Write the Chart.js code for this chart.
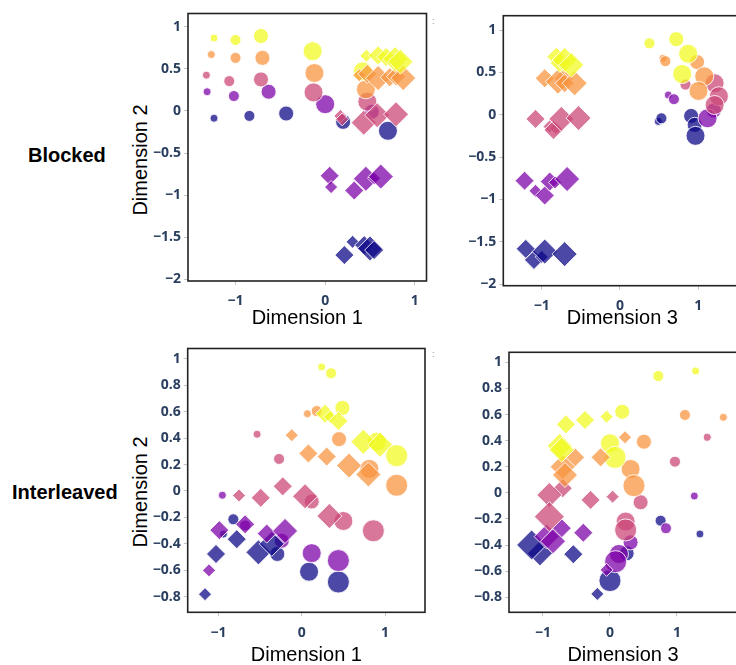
<!DOCTYPE html>
<html><head><meta charset="utf-8">
<script src="https://cdn.jsdelivr.net/npm/chart.js@4.4.1/dist/chart.umd.min.js"></script>
<style>
html,body{margin:0;padding:0;background:#fff;width:736px;height:665px;overflow:hidden;position:relative}
canvas{position:absolute}
.lbl{position:absolute;font-family:"Liberation Sans",Arial,sans-serif;white-space:nowrap;color:#000;line-height:1}
.row{font-weight:bold;font-size:20px}
.ytitle{font-size:20px;transform:translate(-50%,-50%) rotate(-90deg)}
.dots{font-size:9px;color:#8a93a6}
</style></head><body>
<div class="lbl row" style="left:28px;top:145px">Blocked</div>
<div class="lbl row" style="left:12px;top:482px">Interleaved</div>
<div class="lbl ytitle" style="left:140px;top:160px">Dimension 2</div>
<div class="lbl ytitle" style="left:140px;top:492px">Dimension 2</div>
<div class="lbl dots" style="left:432px;top:17px">:</div>
<div class="lbl dots" style="left:432px;top:350px">:</div>
<canvas id="tl" width="300" height="335" style="left:140px;top:0px"></canvas>
<canvas id="tr" width="300" height="335" style="left:455px;top:0px"></canvas>
<canvas id="bl" width="300" height="330" style="left:140px;top:335px"></canvas>
<canvas id="br" width="300" height="330" style="left:455px;top:335px"></canvas>
<script>
// ---------- tick labels ----------
const xTicks = [-1, 0, 1];
const yTicksBlocked = [-2, -1.5, -1, -0.5, 0, 0.5, 1];
const yTicksInterleaved = [-0.8, -0.6, -0.4, -0.2, 0, 0.2, 0.4, 0.6, 0.8, 1];

// ---------- Blocked: Dimension 1 vs Dimension 2 ----------
// group 0..4 = colour level, shape c = circle, d = diamond, size = size level
const tlX = [-1.24,-0.845,-0.435,0.2,0.7, -1.317,-1.018,-0.631,0.0,0.52, -1.325,-1.07,-0.716,-0.13,0.47, -1.27,-1.0,-0.70,-0.12,0.454, -1.24,-1.0,-0.716,-0.14,0.42,
  0.306,0.214,0.435,0.50,0.546, 0.05,0.066,0.324,0.454,0.546,0.62, 0.17,0.19,0.43,0.58,0.79, 0.38,0.47,0.59,0.72,0.79,0.87, 0.46,0.59,0.68,0.78,0.84];
const tlY = [-0.087,-0.059,-0.031,-0.13,-0.236, 0.228,0.177,0.228,0.08,-0.01, 0.425,0.354,0.374,0.22,0.11, 0.669,0.63,0.63,0.45,0.256, 0.866,0.843,0.89,0.709,0.47,
  -1.555,-1.712,-1.594,-1.633,-1.653, -0.77,-0.905,-0.945,-0.806,-0.80,-0.78, -0.06,-0.10,-0.14,-0.05,-0.04, 0.425,0.44,0.39,0.40,0.41,0.39, 0.655,0.66,0.64,0.615,0.585];
const tlGroup = [0,0,0,0,0, 1,1,1,1,1, 2,2,2,2,2, 3,3,3,3,3, 4,4,4,4,4,
  0,0,0,0,0, 1,1,1,1,1,1, 2,2,2,2,2, 3,3,3,3,3,3, 4,4,4,4,4];
const tlShape = ['c','c','c','c','c','c','c','c','c','c','c','c','c','c','c','c','c','c','c','c','c','c','c','c','c',
  'd','d','d','d','d','d','d','d','d','d','d','d','d','d','d','d','d','d','d','d','d','d','d','d','d','d','d'];
const tlSize = [1,2,3,3,4, 1,2,3,4,3, 1,2,3,4,4, 1,2,3,4,4, 1,2,3,4,4,
  1,2,2,3,2, 2,1,2,3,1,3, 1,1,3,3,3, 1,2,3,2,2,3, 1,2,2,3,3];

// ---------- Blocked: Dimension 3 vs Dimension 2 ----------
const trX = [0.49,0.53,0.91,0.955,0.966, 0.618,0.69,1.2,1.12, 0.838,1.21,1.265,1.21, 0.55,0.58,0.986,1.078,1.004, 0.377,0.72,0.872,0.796,
  -1.205,-1.10,-1.0,-0.962,-0.708, -1.22,-1.08,-0.962,-0.898,-0.83,-0.676, -1.08,-0.90,-0.82,-0.85,-0.75,-0.53, -0.962,-0.72,-0.793,-0.708,-0.58, -0.813,-0.77,-0.708,-0.623];
const trY = [-0.08,-0.043,-0.015,-0.12,-0.25, 0.232,0.183,0.05,-0.043, 0.355,0.371,0.218,0.114, 0.666,0.632,0.622,0.453,0.28, 0.843,0.892,0.72,0.48,
  -1.585,-1.715,-1.68,-1.617,-1.647, -0.78,-0.90,-0.955,-0.79,-0.80,-0.76, -0.05,-0.14,-0.16,-0.18,-0.05,-0.04, 0.43,0.43,0.39,0.371,0.371, 0.685,0.61,0.646,0.587];
const trGroup = [0,0,0,0,0, 1,1,1,1, 2,2,2,2, 3,3,3,3,3, 4,4,4,4,
  0,0,0,0,0, 1,1,1,1,1,1, 2,2,2,2,2,2, 3,3,3,3,3, 4,4,4,4];
const trShape = ['c','c','c','c','c','c','c','c','c','c','c','c','c','c','c','c','c','c','c','c','c','c',
  'd','d','d','d','d','d','d','d','d','d','d','d','d','d','d','d','d','d','d','d','d','d','d','d','d','d'];
const trSize = [1,2,3,3,4, 1,2,3,4, 2,4,4,4, 1,2,3,4,4, 2,3,4,4,
  2,2,1,3,3, 2,1,2,2,1,3, 2,1,1,2,3,3, 2,2,3,2,3, 2,2,3,3];

// ---------- Interleaved: Dimension 1 vs Dimension 2 ----------
const blX = [-0.94,-0.821,-0.293,0.088,0.44, -0.953,-0.68,-0.24,0.12,0.44, -0.536,-0.272,0.12,0.5,0.86, 0.068,0.18,0.448,0.812,1.14, 0.24,0.352,0.488,0.9,1.14,
  -1.161,-1.029,-0.78,-0.52,-0.36, -1.113,-0.989,-0.68,-0.42,-0.2, -0.753,-0.492,-0.228,0.04,0.332, -0.12,0.08,0.3,0.568,0.8, 0.28,0.34,0.44,0.74,0.94];
const blY = [-0.326,-0.214,-0.476,-0.61,-0.688, -0.032,-0.26,-0.376,-0.47,-0.526, 0.429,0.242,-0.08,-0.227,-0.301, 0.584,0.604,0.392,0.167,0.043, 0.938,0.89,0.628,0.372,0.267,
  -0.78,-0.476,-0.364,-0.464,-0.40, -0.6,-0.296,-0.252,-0.322,-0.302, -0.034,-0.052,0.035,-0.04,-0.189, 0.422,0.284,0.26,0.192,0.125, 0.584,0.56,0.529,0.372,0.35];
const blGroup = [0,0,0,0,0, 1,1,1,1,1, 2,2,2,2,2, 3,3,3,3,3, 4,4,4,4,4,
  0,0,0,0,0, 1,1,1,1,1, 2,2,2,2,2, 3,3,3,3,3, 4,4,4,4,4];
const blShape = ['c','c','c','c','c','c','c','c','c','c','c','c','c','c','c','c','c','c','c','c','c','c','c','c','c',
  'd','d','d','d','d','d','d','d','d','d','d','d','d','d','d','d','d','d','d','d','d','d','d','d','d'];
const blSize = [1,2,3,4,5, 1,2,3,4,5, 1,2,3,4,5, 1,2,3,4,5, 1,2,3,4,5,
  1,2,2,3,3, 1,2,2,2,3, 1,2,2,3,3, 1,2,2,3,3, 2,1,2,3,3];

// ---------- Interleaved: Dimension 3 vs Dimension 2 ----------
const brX = [1.343,0.756,0.249,0.0, 1.259,0.836,0.308,0.134,0.085, 1.453,0.97,0.458,0.234,0.234, 1.692,1.119,0.507,0.308,0.358, 1.279,0.721,0.184,0.0,0.075,
  -0.189,-0.547,-1.045,-1.169, -0.05,-0.398,-0.721,-0.945,-0.85, 0.04,-0.289,-0.706,-0.905,-0.905, 0.224,-0.139,-0.522,-0.706,-0.672, -0.05,-0.373,-0.657,-0.75,-0.72];
const brY = [-0.315,-0.213,-0.463,-0.672, -0.024,-0.271,-0.379,-0.468,-0.527, 0.426,0.239,-0.072,-0.22,-0.284, 0.579,0.597,0.392,0.183,0.055, 0.934,0.895,0.622,0.38,0.272,
  -0.774,-0.47,-0.463,-0.399, -0.59,-0.305,-0.271,-0.335,-0.37, -0.029,-0.054,0.035,-0.016,-0.182, 0.426,0.272,0.272,0.2,0.137, 0.584,0.558,0.525,0.36,0.33];
const brGroup = [0,0,0,0, 1,1,1,1,1, 2,2,2,2,2, 3,3,3,3,3, 4,4,4,4,4,
  0,0,0,0, 1,1,1,1,1, 2,2,2,2,2, 3,3,3,3,3, 4,4,4,4,4];
const brShape = ['c','c','c','c','c','c','c','c','c','c','c','c','c','c','c','c','c','c','c','c','c','c','c','c',
  'd','d','d','d','d','d','d','d','d','d','d','d','d','d','d','d','d','d','d','d','d','d','d','d'];
const brSize = [1,2,3,5, 1,2,3,4,5, 1,2,3,4,5, 1,2,3,4,5, 1,2,3,4,5,
  1,2,3,4, 1,2,2,3,3, 1,2,2,3,4, 1,2,2,3,3, 1,2,2,3,3];

// ---------- styling ----------
const plasma = [[13,8,135],[126,3,168],[204,71,120],[248,149,64],[240,249,33]];
const circleR = {1:4, 2:5.5, 3:7.5, 4:9.5, 5:11};
const diamondR = {1:6.5, 2:9.5, 3:12.5, 4:15};
const tickColor = '#2a3f5f';

const frame = {
  id: 'frame',
  afterDraw(chart) {
    const {ctx, chartArea: a} = chart;
    ctx.save();
    ctx.strokeStyle = '#222';
    ctx.lineWidth = 1.6;
    ctx.strokeRect(a.left, a.top, a.right - a.left, a.bottom - a.top);
    ctx.restore();
  }
};

function fmt(v) {
  if (Math.abs(v) < 1e-9) return '0';
  return String(+v.toFixed(2)).replace('-', '\u2212');
}

function build(id, xs, ys, groups, shapes, sizes, c) {
  const data = xs.map((x, i) => ({x: x, y: ys[i]}));
  const bg = groups.map(g => `rgba(${plasma[g][0]},${plasma[g][1]},${plasma[g][2]},0.74)`);
  const ps = shapes.map(s => s === 'c' ? 'circle' : 'rectRot');
  const rad = shapes.map((s, i) => s === 'c' ? circleR[sizes[i]] : diamondR[sizes[i]]);
  new Chart(document.getElementById(id), {
    type: 'scatter',
    data: {datasets: [{
      data: data,
      pointStyle: ps,
      pointRadius: rad,
      pointHoverRadius: rad,
      pointBackgroundColor: bg,
      pointBorderColor: 'rgba(255,255,255,0.85)',
      pointBorderWidth: 1
    }]},
    options: {
      responsive: false,
      animation: false,
      devicePixelRatio: 1,
      events: [],
      layout: {padding: {left: 0, top: c.padTop, right: c.padRight, bottom: 0}},
      plugins: {legend: {display: false}, tooltip: {enabled: false}},
      scales: {
        x: {
          type: 'linear', position: 'bottom', min: c.xMin, max: c.xMax,
          afterBuildTicks: s => { s.ticks = xTicks.map(v => ({value: v})); },
          afterFit: s => { s.height = c.xH; },
          border: {display: false},
          grid: {display: true, drawOnChartArea: false, drawTicks: true, tickLength: 4, color: '#c4c4c4'},
          ticks: {padding: 8, color: tickColor, font: {family: '"Open Sans", sans-serif', size: 14, weight: 'bold'}, callback: v => fmt(v)},
          title: {display: true, text: c.title, color: '#000', padding: {top: 0, bottom: c.titlePad},
                  font: {family: '"Liberation Sans", Arial, sans-serif', size: 20, lineHeight: 1}}
        },
        y: {
          type: 'linear', position: 'left', min: c.yMin, max: c.yMax,
          afterBuildTicks: s => { s.ticks = c.yTicks.map(v => ({value: v})); },
          afterFit: s => { s.width = c.yW; },
          border: {display: false},
          grid: {display: true, drawOnChartArea: false, drawTicks: true, tickLength: 4, color: '#c4c4c4'},
          ticks: {padding: 3, color: tickColor, font: {family: '"Open Sans", sans-serif', size: 14, weight: 'bold'}, callback: v => fmt(v)}
        }
      }
    },
    plugins: [frame]
  });
}

build('tl', tlX, tlY, tlGroup, tlShape, tlSize,
  {xMin: -1.53, xMax: 1.13, yMin: -2.02, yMax: 1.157, yTicks: yTicksBlocked, yW: 48, xH: 54, padTop: 12, padRight: 12, title: 'Dimension 1', titlePad: 7});
build('tr', trX, trY, trGroup, trShape, trSize,
  {xMin: -1.492, xMax: 1.554, yMin: -2.02, yMax: 1.169, yTicks: yTicksBlocked, yW: 48.3, xH: 49.3, padTop: 15.7, padRight: 12, title: 'Dimension 3', titlePad: 6.5});
build('bl', blX, blY, blGroup, blShape, blSize,
  {xMin: -1.369, xMax: 1.48, yMin: -0.917, yMax: 1.077, yTicks: yTicksInterleaved, yW: 47.7, xH: 52.7, padTop: 10.7, padRight: 15, title: 'Dimension 1', titlePad: 0});
build('br', brX, brY, brGroup, brShape, brSize,
  {xMin: -1.507, xMax: 1.896, yMin: -0.915, yMax: 1.077, yTicks: yTicksInterleaved, yW: 54, xH: 52.7, padTop: 17.3, padRight: 18, title: 'Dimension 3', titlePad: 0});
</script>
</body></html>
